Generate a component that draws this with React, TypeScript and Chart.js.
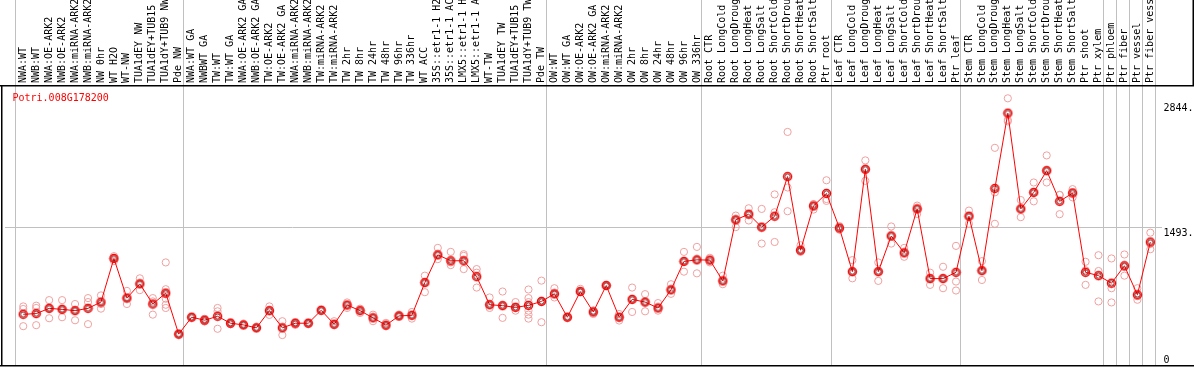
import React, { useEffect, useRef } from 'react';
import { Chart, registerables } from 'chart.js';

Chart.register(...registerables);

const geneId = 'Potri.008G178200';

const categories = [
  'NWA:WT', 'NWB:WT', 'NWA:OE-ARK2', 'NWB:OE-ARK2', 'NWA:miRNA-ARK2', 'NWB:miRNA-ARK2', 'NW 0hr', 'WT H2O', 'WT-NW',
  'TUA1dEY NW', 'TUA1dEY+TUB15', 'TUA1dY+TUB9 NW', 'Pde NW',
  'NWA:WT GA', 'NWBWT GA', 'TW:WT', 'TW:WT GA', 'NWA:OE-ARK2 GA', 'NWB:OE-ARK2 GA', 'TW:OE-ARK2', 'TW:OE-ARK2 GA',
  'NWA:miRNA-ARK2', 'NWB:miRNA-ARK2', 'TW:miRNA-ARK2', 'TW:miRNA-ARK2', 'TW 2hr', 'TW 8hr', 'TW 24hr', 'TW 48hr',
  'TW 96hr', 'TW 336hr', 'WT ACC', '35S::etr1-1 H2', '35S::etr1-1 AC', 'LMX5::etr1-1 H', 'LMX5::etr1-1 A', 'WT-TW',
  'TUA1dEY TW', 'TUA1dEY+TUB15', 'TUA1dY+TUB9 TW', 'Pde TW',
  'OW:WT', 'OW:WT GA', 'OW:OE-ARK2', 'OW:OE-ARK2 GA', 'OW:miRNA-ARK2', 'OW:miRNA-ARK2', 'OW 2hr', 'OW 8hr', 'OW 24hr',
  'OW 48hr', 'OW 96hr', 'OW 336hr',
  'Root CTR', 'Root LongCold', 'Root LongDroug', 'Root LongHeat', 'Root LongSalt', 'Root ShortCold', 'Root ShortDrou',
  'Root ShortHeat', 'Root ShortSalt', 'Ptr root',
  'Leaf CTR', 'Leaf LongCold', 'Leaf LongDroug', 'Leaf LongHeat', 'Leaf LongSalt', 'Leaf ShortCold', 'Leaf ShortDrou',
  'Leaf ShortHeat', 'Leaf ShortSalt', 'Ptr leaf',
  'Stem CTR', 'Stem LongCold', 'Stem LongDroug', 'Stem LongHeat', 'Stem LongSalt', 'Stem ShortCold', 'Stem ShortDrou',
  'Stem ShortHeat', 'Stem ShortSalt', 'Ptr shoot', 'Ptr xylem',
  'Ptr phloem', 'Ptr fiber', 'Ptr vessel', 'Ptr fiber vess',
];

const meanValues = [
  549, 556, 613, 602, 588, 613, 681, 1153, 724, 878, 660, 778, 334,
  517, 485, 527, 452, 434, 402, 588, 402, 452, 452, 592, 441, 649, 588, 510, 431, 531, 538, 892, 1192, 1128, 1128,
  956, 652, 642, 624, 645, 688,
  770, 517, 795, 574, 860, 517, 710, 681, 617, 813, 1121, 1138,
  1135, 910, 1571, 1632, 1492, 1610, 2039, 1242, 1721, 1857,
  1482, 1010, 2118, 1010, 1396, 1214, 1689, 935, 935, 1003,
  1610, 1021, 1910, 2725, 1689, 1868, 2103, 1771, 1861, 1003, 967,
  885, 1074, 760, 1331,
];

const replicateValues = [
  [634, 606, 420], [642, 617, 431], [702, 613, 506], [702, 602, 517], [660, 588, 484], [724, 681, 442],
  [753, 660, 610], [1178, 1153, 1124], [802, 724, 660], [938, 878, 810], [724, 688, 545],
  [1110, 820, 767, 717, 652, 617], [340, 334, 328],
  [520, 517, 514], [499, 485, 471], [617, 581, 392], [463, 452, 441], [440, 434, 428], [408, 402, 396],
  [634, 588, 542], [474, 402, 324], [463, 452, 434], [458, 452, 446], [598, 592, 586], [474, 441, 431],
  [677, 649, 617], [610, 588, 563], [545, 510, 474], [456, 431, 420], [540, 531, 522], [574, 538, 502],
  [967, 892, 788], [1267, 1188, 1146], [1224, 1110, 1081], [1199, 1181, 1038], [1038, 999, 838],
  [731, 652, 617], [795, 642, 510], [681, 624, 588], [817, 724, 681, 588, 545, 502], [913, 688, 463],
  [831, 770, 731], [522, 517, 512], [824, 795, 788], [588, 574, 552], [866, 860, 854], [552, 517, 481],
  [838, 710, 574], [767, 681, 581], [670, 617, 588], [874, 813, 770], [1224, 1121, 1010], [1278, 1138, 992],
  [1160, 1135, 1110], [967, 910, 874], [1617, 1571, 1492], [1696, 1632, 1564], [1689, 1492, 1314],
  [1846, 1653, 1331], [2522, 1921, 1664], [1296, 1242, 1224], [1742, 1721, 1682], [1999, 1796, 1776],
  [1503, 1482, 1464], [1135, 1010, 938], [2214, 2118, 1993], [1110, 1010, 910], [1499, 1396, 1314],
  [1267, 1214, 1171], [1725, 1689, 1635], [999, 935, 867], [1063, 935, 831], [1289, 903, 806],
  [1671, 1610, 1528], [1124, 1021, 920], [2350, 1868, 1528], [2886, 2652, 2636], [1785, 1689, 1600],
  [1975, 1868, 1771], [2268, 2103, 1975], [1839, 1842, 1632], [1903, 1870, 1814], [1117, 1025, 867],
  [1188, 1017, 688], [1153, 831, 677], [1196, 1060, 967], [831, 745, 706], [1432, 1310, 1253],
];

const yTickValues = [0, 1493, 2844];
const yTickLabels = ['0', '1493.', '2844.'];
const yGridValues = [1493];
const yMax = 3030;
const groupStarts = [0, 13, 41, 53, 63, 73, 84, 85, 86, 87, 88];

const FONT = '"DejaVu Sans Mono", "Liberation Mono", monospace';

function makeMeanMarker(): HTMLCanvasElement {
  const c = document.createElement('canvas');
  c.width = 11;
  c.height = 11;
  const g = c.getContext('2d')!;
  g.strokeStyle = '#ff0000';
  g.lineWidth = 1.5;
  g.beginPath();
  g.arc(5.5, 5.5, 4, 0, Math.PI * 2);
  g.stroke();
  g.strokeStyle = '#500000';
  g.lineWidth = 0.8;
  g.beginPath();
  g.arc(5.5, 5.5, 2.6, 0, Math.PI * 2);
  g.stroke();
  return c;
}

const decorPlugin = {
  id: 'decor',
  beforeDatasetsDraw(chart: any) {
    const { ctx, chartArea, scales, width } = chart;
    const xs = scales.x;
    ctx.save();
    ctx.strokeStyle = '#c0c0c0';
    ctx.lineWidth = 1;
    for (const k of groupStarts) {
      const px = Math.round(xs.getPixelForValue(k - 0.66)) + 0.5;
      ctx.beginPath();
      ctx.moveTo(px, 0);
      ctx.lineTo(px, chartArea.bottom);
      ctx.stroke();
    }
    ctx.fillStyle = '#000';
    ctx.fillRect(0, chartArea.top, width, 1.5);
    ctx.fillRect(1, chartArea.top, 1.5, chartArea.bottom - chartArea.top);
    ctx.fillRect(0, chartArea.bottom, width, 1.5);
    ctx.fillRect(width - 1.5, 0, 1.5, chartArea.top);

    ctx.font = '10px ' + FONT;
    ctx.fillStyle = '#ff0000';
    ctx.textAlign = 'left';
    ctx.textBaseline = 'alphabetic';
    ctx.fillText(geneId, chartArea.left + 7.5, chartArea.top + 16);

    const ys = scales.y;
    ctx.fillStyle = '#000';
    ys.ticks.forEach((t: any, i: number) => {
      const py = ys.getPixelForValue(t.value);
      const base = Math.min(py + 8.7, chartArea.bottom - 2);
      ctx.fillText(yTickLabels[i], ys.left + 8.5, base);
    });
    ctx.restore();
  },
};

export default function App() {
  const ref = useRef<HTMLCanvasElement>(null);
  useEffect(() => {
    document.body.style.margin = '0';
    const canvas = ref.current!;
    const meanMarker = makeMeanMarker();
    const chart = new Chart(canvas, {
      type: 'line',
      data: {
        datasets: [
          {
            type: 'line',
            data: meanValues.map((v, i) => ({ x: i, y: v })),
            borderColor: '#ff0000',
            borderWidth: 1,
            pointStyle: meanMarker as any,
            pointRadius: 4,
            tension: 0,
            fill: false,
          },
          {
            type: 'scatter',
            data: replicateValues.flatMap((reps, i) => reps.map((v) => ({ x: i, y: v }))),
            borderColor: '#f0a0a0',
            backgroundColor: 'rgba(0,0,0,0)',
            pointRadius: 3.6,
            pointBorderWidth: 1,
            showLine: false,
          },
        ] as any,
      },
      options: {
        responsive: false,
        animation: false,
        layout: { padding: { left: 1, right: 0, top: 0, bottom: 2 } },
        plugins: { legend: { display: false }, tooltip: { enabled: false }, title: { display: false } },
        scales: {
          x: {
            type: 'linear',
            position: 'top',
            bounds: 'data',
            min: -1.408,
            max: 87.36,
            afterBuildTicks: (s: any) => {
              s.ticks = categories.map((_, i) => ({ value: i }));
            },
            afterFit: (s: any) => {
              s.height = 85;
            },
            grid: { display: false, drawTicks: false },
            border: { display: false },
            ticks: {
              autoSkip: false,
              minRotation: 90,
              maxRotation: 90,
              padding: 2,
              labelOffset: 12,
              color: '#000',
              font: { family: FONT, size: 10 },
              callback: (v: any) => categories[v] ?? '',
            },
          },
          y: {
            type: 'linear',
            position: 'right',
            bounds: 'data',
            min: 0,
            max: yMax,
            afterBuildTicks: (s: any) => {
              s.ticks = yTickValues.map((v) => ({ value: v }));
            },
            afterFit: (s: any) => {
              s.width = 39;
            },
            grid: {
              color: (c: any) => (c.tick && yGridValues.includes(c.tick.value) ? '#c0c0c0' : 'rgba(0,0,0,0)'),
              tickLength: 7,
              drawTicks: true,
            },
            border: { display: false },
            ticks: { display: false },
          },
        },
      } as any,
      plugins: [decorPlugin],
    });
    return () => chart.destroy();
  }, []);
  return (
    <div style={{ width: 1194, height: 370 }}>
      <canvas ref={ref} width={1194} height={370} style={{ display: 'block', width: 1194, height: 370 }} />
    </div>
  );
}
